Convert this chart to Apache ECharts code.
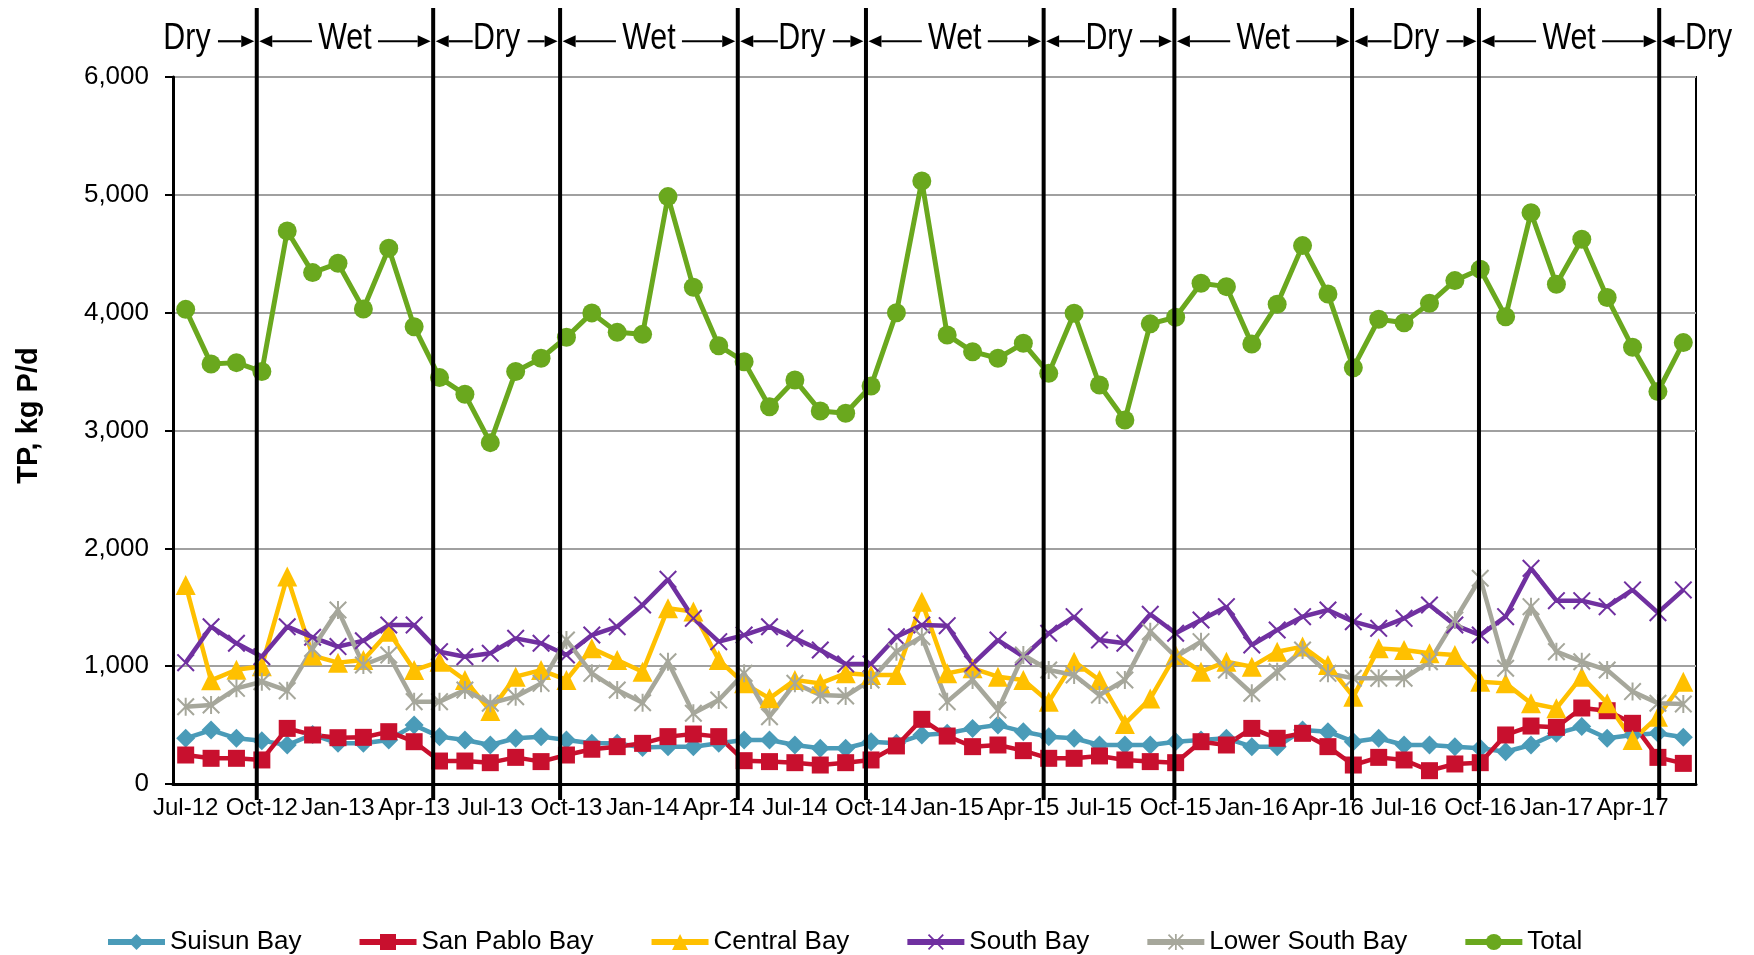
<!DOCTYPE html>
<html>
<head>
<meta charset="utf-8">
<title>TP loads by bay segment</title>
<script src="https://cdn.jsdelivr.net/npm/echarts@6/dist/echarts.min.js"></script>
<style>
  html, body { margin: 0; padding: 0; background: #fff; }
  #chart { width: 1754px; height: 955px; }
</style>
</head>
<body>
<div id="chart"></div>
<script>
// months, Jul-12 .. Jun-17
var months = [
  'Jul-12','Aug-12','Sep-12','Oct-12','Nov-12','Dec-12','Jan-13','Feb-13','Mar-13','Apr-13','May-13','Jun-13',
  'Jul-13','Aug-13','Sep-13','Oct-13','Nov-13','Dec-13','Jan-14','Feb-14','Mar-14','Apr-14','May-14','Jun-14',
  'Jul-14','Aug-14','Sep-14','Oct-14','Nov-14','Dec-14','Jan-15','Feb-15','Mar-15','Apr-15','May-15','Jun-15',
  'Jul-15','Aug-15','Sep-15','Oct-15','Nov-15','Dec-15','Jan-16','Feb-16','Mar-16','Apr-16','May-16','Jun-16',
  'Jul-16','Aug-16','Sep-16','Oct-16','Nov-16','Dec-16','Jan-17','Feb-17','Mar-17','Apr-17','May-17','Jun-17'
]

// TP, kg P/d
var suisunBay = [
  388,458,388,368,330,420,345,345,373,500,
  402,373,331,388,402,373,345,345,310,317,
  317,345,373,373,331,303,303,359,345,416,
  430,472,500,444,402,388,331,331,331,359,
  373,388,317,317,458,444,359,388,331,331,
  317,303,274,331,430,487,388,416,430,396
]
var sanPabloBay = [
  246,218,218,204,472,416,393,396,444,359,
  195,195,181,226,190,246,295,317,345,402,
  424,402,198,190,181,161,181,204,323,549,
  407,317,331,283,218,218,238,204,190,181,
  359,331,472,388,430,317,161,226,204,113,
  170,181,416,492,481,645,622,515,226,175
]
var centralBay = [
  1689,880,970,1000,1760,1090,1030,1052,1293,967,
  1038,883,620,911,967,883,1151,1052,953,1491,
  1463,1052,854,727,883,854,939,925,925,1547,
  939,982,911,883,699,1038,883,510,725,1095,
  953,1038,996,1123,1166,1010,741,1151,1137,1109,
  1095,868,854,685,642,911,685,373,571,868
]
var southBay = [
  1030,1335,1194,1080,1335,1245,1166,1216,1349,1349,
  1123,1080,1109,1236,1194,1095,1264,1335,1519,1737,
  1406,1208,1264,1335,1236,1137,1018,1018,1250,1349,
  1344,1018,1222,1080,1279,1420,1222,1194,1440,1279,
  1392,1505,1180,1307,1420,1477,1378,1321,1406,1519,
  1349,1264,1420,1830,1556,1556,1505,1647,1454,1647
]
var lowerSouthBay = [
  656,670,812,868,792,1150,1477,1010,1095,699,
  699,798,685,741,854,1222,939,798,690,1038,
  600,713,939,571,854,755,747,883,1123,1250,
  699,883,628,1095,967,925,755,883,1293,1080,
  1208,967,770,953,1137,939,897,897,897,1038,
  1392,1746,982,1505,1123,1038,967,784,685,679
]
var total = [
  4028,3565,3576,3500,4693,4340,4419,4031,4546,3881,
  3449,3307,2897,3500,3613,3791,3998,3833,3816,4985,
  4215,3720,3584,3202,3429,3166,3146,3378,4000,5118,
  3811,3669,3613,3740,3485,3995,3386,3089,3905,3961,
  4249,4221,3734,4071,4569,4159,3533,3944,3915,4079,
  4272,4368,3966,4849,4241,4623,4128,3706,3330,3746
]

var yTicks = [0, 1000, 2000, 3000, 4000, 5000, 6000]

// wet / dry seasons (month index positions of the boundary lines)
var seasonNames = ['Dry','Wet','Dry','Wet','Dry','Wet','Dry','Wet','Dry','Wet','Dry']
var seasonBreaks = [2.8, 9.75, 14.75, 21.75, 26.8, 33.8, 38.95, 45.95, 50.95, 58.05]
var firstSeasonLabelAt = 0.05
var lastSeasonLabelAt = 60.0

var colors = {
  suisun: '#4A9BB8',
  sanPablo: '#C8102E',
  central: '#FFC000',
  south: '#7030A0',
  lowerSouth: '#A6A79B',
  total: '#6AA81E'
}

var xSymbol = 'path://M0,0.8L0.8,0L5,4.2L9.2,0L10,0.8L5.8,5L10,9.2L9.2,10L5,5.8L0.8,10L0,9.2L4.2,5Z'
var starSymbol = xSymbol + 'M4.45,0L5.55,0L5.55,10L4.45,10Z'

var chart = echarts.init(document.getElementById('chart'))

function lineSeries (name, data, color, symbol, size, width) {
  return {
    name: name,
    type: 'line',
    xAxisIndex: 0,
    yAxisIndex: 0,
    data: data,
    symbol: symbol,
    symbolSize: size,
    showAllSymbol: true,
    lineStyle: { color: color, width: width },
    itemStyle: { color: color },
    emphasis: { disabled: true },
    z: 3
  }
}

function arrow (x1, x2, y) {
  var dir = x2 > x1 ? 1 : -1
  var hl = 13, hh = 6
  return [
    { type: 'line', shape: { x1: x1, y1: y, x2: x2 - dir * hl, y2: y }, style: { stroke: '#000', lineWidth: 2.2 } },
    { type: 'polygon', shape: { points: [[x2, y], [x2 - dir * hl, y - hh], [x2 - dir * hl, y + hh]] }, style: { fill: '#000' } }
  ]
}

function renderSeason (params, api) {
  var i = api.value(0)
  var name = seasonNames[i]
  var left = i > 0 ? seasonBreaks[i - 1] : null
  var right = i < seasonBreaks.length ? seasonBreaks[i] : null
  var at
  if (left === null) at = firstSeasonLabelAt
  else if (right === null) at = lastSeasonLabelAt
  else at = (left + right) / 2
  var cx = api.coord([at, 0.961])[0]
  var ty = api.coord([at, 0.961])[1]
  var ay = api.coord([at, 0.958])[1]
  var hw = name === 'Wet' ? 22 : 19
  var gapL = name === 'Wet' ? 11 : 5
  var gapR = name === 'Wet' ? 11 : 12
  var children = []
  if (right !== null) {
    var top = api.coord([right, 1])
    var bot = api.coord([right, 0])
    children.push({ type: 'line', shape: { x1: top[0], y1: top[1], x2: bot[0], y2: bot[1] }, style: { stroke: '#000', lineWidth: 4 } })
    children = children.concat(arrow(cx + hw + gapR, top[0] - 2.5, ay))
  }
  if (left !== null) {
    var lx = api.coord([left, 1])[0]
    children = children.concat(arrow(cx - hw - gapL, lx + 2.5, ay))
  }
  children.push({
    type: 'text',
    x: cx,
    y: ty,
    scaleX: 0.82,
    style: {
      text: name,
      fontSize: 37,
      fontFamily: "'Liberation Sans', Arial, sans-serif",
      fill: '#000',
      align: 'center',
      verticalAlign: 'middle'
    }
  })
  return { type: 'group', children: children }
}

chart.setOption({
  backgroundColor: '#fff',
  animation: false,
  textStyle: { fontFamily: "'Liberation Sans', Arial, sans-serif" },
  grid: [
    { left: 173, right: 58, top: 77, bottom: 171, show: true, borderColor: '#000', borderWidth: 2 },
    { left: 173, right: 58, top: 8, bottom: 155 }
  ],
  legend: {
    left: 100,
    top: 924,
    itemWidth: 57,
    itemHeight: 20,
    itemGap: 55,
    lineStyle: { width: 6 },
    textStyle: { fontSize: 26, color: '#000' },
    data: ['Suisun Bay', 'San Pablo Bay', 'Central Bay', 'South Bay', 'Lower South Bay', 'Total']
  },
  xAxis: [{
    type: 'category',
    gridIndex: 0,
    data: months,
    boundaryGap: true,
    axisLine: { lineStyle: { color: '#000', width: 3 } },
    axisTick: { interval: 2, length: 7, lineStyle: { color: '#000', width: 2 } },
    axisLabel: { interval: 2, fontSize: 24, color: '#000', margin: 12 },
    splitLine: { show: false }
  }, {
    type: 'value',
    gridIndex: 1,
    min: -0.5,
    max: months.length - 0.5,
    show: false
  }],
  yAxis: [{
    type: 'value',
    gridIndex: 0,
    min: yTicks[0],
    max: yTicks[yTicks.length - 1],
    interval: 1000,
    name: 'TP, kg P/d',
    nameLocation: 'middle',
    nameGap: 130,
    nameTextStyle: { fontSize: 29, fontWeight: 'bold', color: '#000', padding: [0, 0, 0, 30] },
    axisLine: { show: true, lineStyle: { color: '#000', width: 3 } },
    axisTick: { show: true, length: 8, lineStyle: { color: '#000', width: 2 } },
    axisLabel: {
      fontSize: 26,
      color: '#000',
      margin: 24,
      formatter: function (v) { return v.toLocaleString('en-US') }
    },
    splitLine: { lineStyle: { color: '#A0A0A0', width: 2 } }
  }, {
    type: 'value',
    gridIndex: 1,
    min: 0,
    max: 1,
    show: false
  }],
  series: [
    lineSeries('Suisun Bay', suisunBay, colors.suisun, 'diamond', 19, 4.5),
    lineSeries('San Pablo Bay', sanPabloBay, colors.sanPablo, 'rect', 17, 4.5),
    lineSeries('Central Bay', centralBay, colors.central, 'triangle', 20, 4.5),
    lineSeries('South Bay', southBay, colors.south, xSymbol, 18, 4.5),
    lineSeries('Lower South Bay', lowerSouthBay, colors.lowerSouth, starSymbol, 18, 4.5),
    lineSeries('Total', total, colors.total, 'circle', 19, 5),
    {
      type: 'custom',
      name: 'seasons',
      xAxisIndex: 1,
      yAxisIndex: 1,
      data: seasonNames.map(function (n, i) { return [i] }),
      renderItem: renderSeason,
      clip: false,
      silent: true,
      z: 5
    }
  ]
})

window.onresize = function () {
  chart.resize()
}
</script>
</body>
</html>
